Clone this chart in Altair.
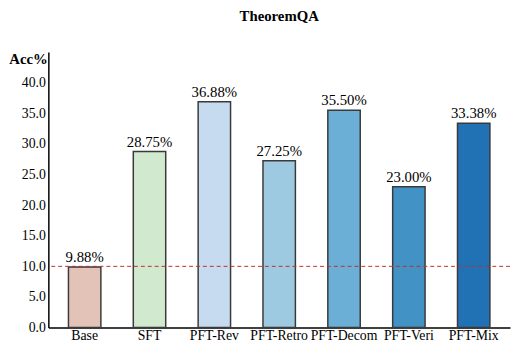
import altair as alt
import pandas as pd

categories = ["Base", "SFT", "PFT-Rev", "PFT-Retro", "PFT-Decom", "PFT-Veri", "PFT-Mix"]
values = [9.88, 28.75, 36.88, 27.25, 35.50, 23.00, 33.38]
colors = ["#e3c3b7", "#d1e9cf", "#c6dbef", "#9ecae1", "#6baed6", "#4292c6", "#2171b5"]
y_ticks = [0, 5, 10, 15, 20, 25, 30, 35, 40]
baseline_value = [10.0]

df = pd.DataFrame({"cat": categories, "acc": values,
                   "label": [f"{v:.2f}%" for v in values]})
ref = pd.DataFrame({"acc": baseline_value})

FONT = "Liberation Serif"

x_axis = alt.Axis(title=None, labelAngle=0, ticks=False, labelPadding=1,
                  labelFont=FONT, labelFontSize=14, labelColor="black",
                  labelOverlap=False,
                  domainColor="black", domainWidth=1.5, grid=False)
y_axis = alt.Axis(title="Acc%", titleAngle=0, titleAlign="right",
                  titleBaseline="alphabetic", titleX=-1, titleY=12,
                  titleFont=FONT, titleFontSize=15, titleFontWeight="bold",
                  titleColor="black",
                  values=y_ticks, format=".1f", ticks=False, labelPadding=3,
                  labelOverlap=False,
                  labelFont=FONT, labelFontSize=14, labelColor="black",
                  domainColor="black", domainWidth=1.5, grid=False)
x_scale = alt.Scale(paddingInner=0.5, paddingOuter=0.31)
y_scale = alt.Scale(domain=[0, 45], nice=False)

bars = alt.Chart(df).mark_bar(stroke="#3a3a3a", strokeWidth=1.5).encode(
    x=alt.X("cat:N", sort=categories, scale=x_scale, axis=x_axis),
    y=alt.Y("acc:Q", scale=y_scale, axis=y_axis),
    color=alt.Color("cat:N", sort=categories,
                    scale=alt.Scale(domain=categories, range=colors), legend=None),
)

text = alt.Chart(df).mark_text(dy=-5, baseline="alphabetic", font=FONT, fontSize=15,
                               color="black").encode(
    x=alt.X("cat:N", sort=categories, scale=x_scale, axis=x_axis),
    y=alt.Y("acc:Q", scale=y_scale, axis=y_axis),
    text="label:N")

rule = alt.Chart(ref).mark_rule(color="#c0302c", strokeWidth=1, strokeDash=[4, 3]).encode(
    y=alt.Y("acc:Q", scale=y_scale, axis=y_axis))

chart = alt.layer(bars, text, rule).properties(
    width=469, height=280,
    title=alt.TitleParams("TheoremQA", font=FONT, fontSize=15, fontWeight="bold",
                          color="black", anchor="middle", offset=28),
    autosize=alt.AutoSizeParams(type="none"),
    padding={"left": 41, "top": 42, "right": 1, "bottom": 15},
).configure_view(stroke=None)

chart.save("out.html", embed_options={"renderer": "svg", "actions": False})
